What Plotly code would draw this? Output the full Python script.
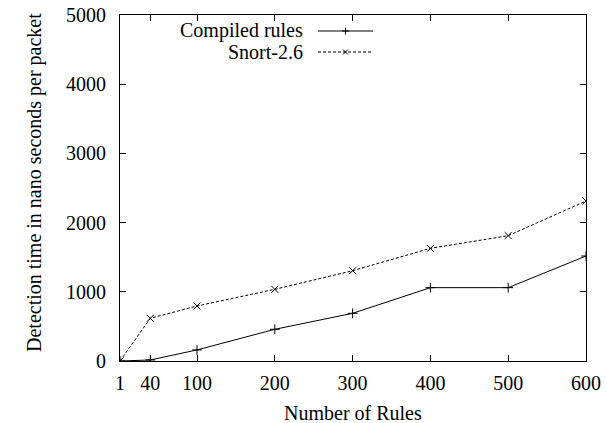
import plotly.graph_objects as go

rules = [1, 40, 100, 200, 300, 400, 500, 600]
compiled = [0, 15, 160, 458, 689, 1060, 1060, 1517]
snort = [0, 617, 795, 1036, 1305, 1628, 1811, 2312]
x_ticks = [1, 40, 100, 200, 300, 400, 500, 600]
y_ticks = [0, 1000, 2000, 3000, 4000, 5000]

FONT = "Liberation Serif"
FS = 20
W, H = 607, 423
L, R, T, B = 120, 586, 15, 361  # plot area in pixels

fig = go.Figure()
fig.add_trace(go.Scatter(x=rules, y=compiled, mode="lines+markers", name="Compiled rules",
                         line=dict(color="black", width=1),
                         marker=dict(symbol="cross-thin", size=7, line=dict(color="black", width=1)),
                         showlegend=False))
fig.add_trace(go.Scatter(x=rules, y=snort, mode="lines+markers", name="Snort-2.6",
                         line=dict(color="black", width=1, dash="3px,2px"),
                         marker=dict(symbol="x-thin", size=7, line=dict(color="black", width=1)),
                         showlegend=False))

axis_common = dict(showgrid=False, zeroline=False, showline=True, linecolor="black", linewidth=1,
                   mirror="ticks", ticks="inside", ticklen=6, tickcolor="black", automargin=False,
                   tickfont=dict(family=FONT, size=FS, color="black"))
fig.update_xaxes(range=[1, 600], tickvals=x_ticks, ticktext=[str(v) for v in x_ticks],
                 ticklabelstandoff=4, **axis_common)
fig.update_yaxes(range=[0, 5000], tickvals=y_ticks, ticktext=[str(v) for v in y_ticks],
                 ticklabelstandoff=9, **axis_common)

def px(xp):
    return (xp - L) / (R - L)
def py(yp):
    return (B - yp) / (B - T)

# axis titles
fig.add_annotation(x=px(353), y=py(413), xref="paper", yref="paper", text="Number of Rules",
                   showarrow=False, xanchor="center", yanchor="middle",
                   font=dict(family=FONT, size=FS, color="black"))
fig.add_annotation(x=px(34), y=py(183), xref="paper", yref="paper",
                   text="Detection time in nano seconds per packet", textangle=-90,
                   showarrow=False, xanchor="center", yanchor="middle",
                   font=dict(family=FONT, size=FS, color="black"))

# manual gnuplot-style legend
legend_items = [("Compiled rules", "solid", 31), ("Snort-2.6", "3px,2px", 52)]
for label, dash, ypx in legend_items:
    fig.add_annotation(x=px(305), y=py(ypx), xref="paper", yref="paper", text=label, showarrow=False,
                       xanchor="right", yanchor="middle", font=dict(family=FONT, size=FS, color="black"))
    fig.add_shape(type="line", xref="paper", yref="paper", x0=px(318), x1=px(373), y0=py(ypx), y1=py(ypx),
                  line=dict(color="black", width=1, dash=dash))
cx = 345.5
fig.add_shape(type="line", xref="paper", yref="paper", x0=px(cx - 3.5), x1=px(cx + 3.5), y0=py(31), y1=py(31), line=dict(color="black", width=1))
fig.add_shape(type="line", xref="paper", yref="paper", x0=px(cx), x1=px(cx), y0=py(27.5), y1=py(34.5), line=dict(color="black", width=1))
fig.add_shape(type="line", xref="paper", yref="paper", x0=px(cx - 2.5), x1=px(cx + 2.5), y0=py(49.5), y1=py(54.5), line=dict(color="black", width=1))
fig.add_shape(type="line", xref="paper", yref="paper", x0=px(cx - 2.5), x1=px(cx + 2.5), y0=py(54.5), y1=py(49.5), line=dict(color="black", width=1))

fig.update_layout(width=W, height=H, margin=dict(l=L, r=W - R, t=T, b=H - B, autoexpand=False),
                  paper_bgcolor="white", plot_bgcolor="white", template="none",
                  font=dict(family=FONT, size=FS, color="black"))

fig.write_html("out.html", config={"displayModeBar": False},
               post_script="document.body.style.margin='0';")
